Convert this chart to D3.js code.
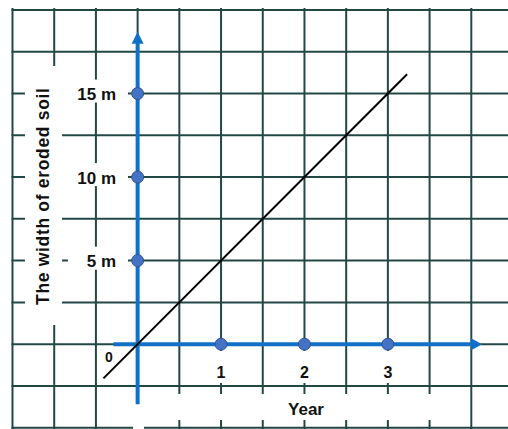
<!DOCTYPE html>
<html>
<head>
<meta charset="utf-8">
<script src="https://cdn.jsdelivr.net/npm/d3@7"></script>
<style>
  html, body { margin: 0; padding: 0; background: #fff; }
  svg { display: block; }
  text { font-family: "Liberation Sans", Arial, sans-serif; font-weight: bold; fill: #111; }
</style>
</head>
<body>
<script>
// ---- data ----
const xMarkYears = [1, 2, 3];
const xTickLabels = ["1", "2", "3"];
const yMarkWidths = [5, 10, 15];
const yTickLabels = ["5 m", "10 m", "15 m"];
const lineYears = [-0.41, 3.23];
const lineWidths = [-2.05, 16.15];
const gridYears = [-1.5, -1, -0.5, 0, 0.5, 1, 1.5, 2, 2.5, 3, 3.5, 4];
const gridWidths = [-5, -2.5, 0, 2.5, 5, 7.5, 10, 12.5, 15, 17.5, 20];
const xAxisExtent = [-0.29, 4.13];
const yAxisExtent = [-3.6, 18.7];
const xTitle = "Year";
const yTitle = "The width of eroded soil";
const originLabel = "0";

// ---- layout ----
const W = 508, H = 429;
const gridColor = "#224846";
const axisBlue = "#1271c6";
const dotFill = "#4472c4";
const dotStroke = "#2f5597";

const svg = d3.select("body").append("svg").attr("width", W).attr("height", H);
svg.append("rect").attr("width", W).attr("height", H).attr("fill", "#fff");

const x = d3.scaleLinear().domain([-1.5, 4]).range([12.5, 471.3]);
const y = d3.scaleLinear().domain([-5, 20]).range([427.7, 10]);

// grid
const grid = svg.append("g").attr("stroke", gridColor).attr("stroke-width", 2);
grid.selectAll("line.v").data(gridYears).join("line").attr("class", "v")
  .attr("x1", d => x(d)).attr("x2", d => x(d)).attr("y1", 8).attr("y2", H);
grid.selectAll("line.h").data(gridWidths).join("line").attr("class", "h")
  .attr("x1", x(-1.5) - 1).attr("x2", W).attr("y1", d => y(d)).attr("y2", d => y(d));

// white label backgrounds
const wb = svg.append("g").attr("fill", "#fff");
wb.append("rect").attr("x", 25).attr("y", 66).attr("width", 37).attr("height", 259); // y title
yMarkWidths.forEach((w, i) => {
  const left = i === 0 ? 68 : 62;
  wb.append("rect").attr("x", left).attr("y", y(w) - 14).attr("width", 128 - left).attr("height", 23);
});
xMarkYears.forEach(v => {
  wb.append("rect").attr("x", x(v) - 16).attr("y", 351).attr("width", 32).attr("height", 32);
});
wb.append("rect").attr("x", 128).attr("y", 394).attr("width", 312).attr("height", 26); // Year box
wb.append("rect").attr("x", 133).attr("y", 400).attr("width", 11).attr("height", 30);

// blue axes
const ax = svg.append("g");
ax.append("line").attr("x1", x(xAxisExtent[0])).attr("x2", x(xAxisExtent[1]) - 9)
  .attr("y1", y(0)).attr("y2", y(0)).attr("stroke", axisBlue).attr("stroke-width", 4);
ax.append("path").attr("fill", axisBlue)
  .attr("d", `M${x(xAxisExtent[1])},${y(0)} L${x(xAxisExtent[1]) - 11},${y(0) - 6} L${x(xAxisExtent[1]) - 11},${y(0) + 6} Z`);
ax.append("line").attr("x1", x(0)).attr("x2", x(0))
  .attr("y1", y(yAxisExtent[1]) + 10).attr("y2", y(yAxisExtent[0]))
  .attr("stroke", axisBlue).attr("stroke-width", 4);
ax.append("path").attr("fill", axisBlue)
  .attr("d", `M${x(0)},${y(yAxisExtent[1])} L${x(0) - 6},${y(yAxisExtent[1]) + 12} L${x(0) + 6},${y(yAxisExtent[1]) + 12} Z`);

// black line
const lineData = lineYears.map((v, i) => ({ year: v, width: lineWidths[i] }));
svg.append("path").datum(lineData)
  .attr("d", d3.line().x(d => x(d.year)).y(d => y(d.width)))
  .attr("fill", "none").attr("stroke", "#000").attr("stroke-width", 2);

// dots
const dots = svg.append("g").attr("fill", dotFill).attr("stroke", dotStroke).attr("stroke-width", 1);
dots.selectAll("circle.x").data(xMarkYears).join("circle").attr("class", "x")
  .attr("cx", d => x(d)).attr("cy", y(0)).attr("r", 6);
dots.selectAll("circle.y").data(yMarkWidths).join("circle").attr("class", "y")
  .attr("cx", x(0)).attr("cy", d => y(d)).attr("r", 6);

// labels
svg.selectAll("text.yt").data(yMarkWidths).join("text").attr("class", "yt")
  .attr("x", 116).attr("y", d => y(d) + 6.5).attr("text-anchor", "end")
  .attr("font-size", 17).text((d, i) => yTickLabels[i]);
svg.selectAll("text.xt").data(xMarkYears).join("text").attr("class", "xt")
  .attr("x", d => x(d)).attr("y", 378).attr("text-anchor", "middle")
  .attr("font-size", 16).text((d, i) => xTickLabels[i]);
svg.append("text").attr("x", 109).attr("y", 362).attr("text-anchor", "middle")
  .attr("font-size", 14).text(originLabel);
svg.append("text").attr("x", 306).attr("y", 415).attr("text-anchor", "middle")
  .attr("font-size", 17).text(xTitle);
svg.append("text").attr("transform", "translate(49,196.5) rotate(-90)")
  .attr("text-anchor", "middle").attr("font-size", 17.5)
  .attr("textLength", 217).attr("lengthAdjust", "spacing").text(yTitle);
</script>
</body>
</html>
